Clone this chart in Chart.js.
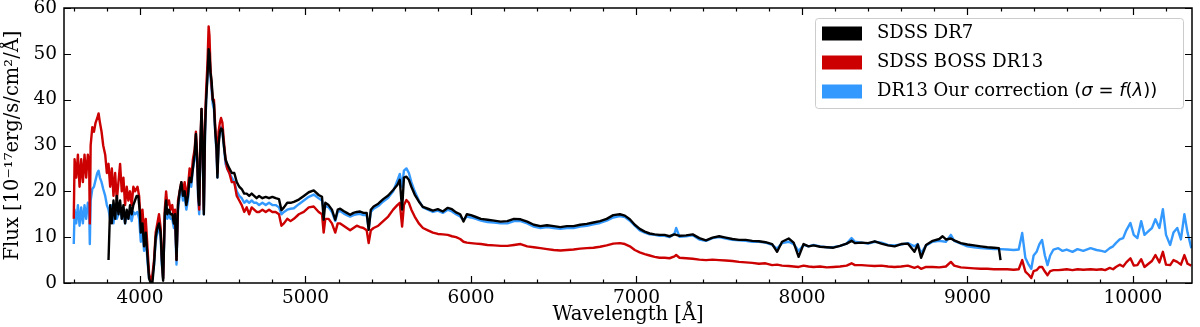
<!DOCTYPE html>
<html>
<head>
<meta charset="utf-8">
<script src="https://cdn.jsdelivr.net/npm/chart.js@4/dist/chart.umd.min.js"></script>
<style>
  html, body { margin: 0; padding: 0; background: #fff; }
  #wrap { width: 1200px; height: 327px; }
</style>
</head>
<body>
<div id="wrap"><canvas id="myChart" width="1200" height="327"></canvas></div>
<script>
// Wavelength grid shared by the BOSS DR13 spectrum and our corrected version
const bossWave = [
  3600, 3605, 3615, 3625, 3635, 3645, 3655, 3665, 3675, 3685,
  3693, 3697, 3702, 3712, 3722, 3732, 3742, 3750, 3758, 3768,
  3778, 3790, 3800, 3810, 3820, 3830, 3840, 3850, 3860, 3870,
  3880, 3890, 3900, 3910, 3920, 3930, 3940, 3950, 3960, 3970,
  3985, 3995, 4005, 4015, 4025, 4035, 4045, 4055, 4070, 4085,
  4095, 4105, 4115, 4125, 4132, 4140, 4150, 4158, 4165, 4175,
  4185, 4195, 4205, 4212, 4221, 4230, 4240, 4250, 4260, 4270,
  4280, 4290, 4300, 4310, 4320, 4330, 4338, 4346, 4352, 4358,
  4365, 4372, 4379, 4386, 4393, 4400, 4408, 4415, 4420, 4426,
  4433, 4440, 4447, 4455, 4463, 4468, 4475, 4483, 4490, 4498,
  4507, 4517, 4527, 4540, 4555, 4570, 4585, 4600, 4615, 4630,
  4645, 4660, 4675, 4690, 4705, 4720, 4740, 4760, 4780, 4800,
  4820, 4840, 4855, 4870, 4890, 4910, 4930, 4960, 4990, 5020,
  5050, 5080, 5100, 5110, 5120, 5140, 5160, 5180, 5195, 5210,
  5230, 5250, 5270, 5290, 5310, 5330, 5350, 5370, 5382, 5395,
  5412, 5440, 5470, 5500, 5530, 5555, 5570, 5584, 5595, 5610,
  5625, 5640, 5660, 5685, 5710, 5740, 5770, 5800, 5830, 5860,
  5885, 5910, 5935, 5955, 5975, 6000, 6030, 6060, 6100, 6140,
  6180, 6220, 6260, 6300, 6340, 6380, 6420, 6460, 6500, 6540,
  6580, 6620, 6660, 6700, 6740, 6780, 6820, 6860, 6900, 6930,
  6960, 6990, 7020, 7050, 7080, 7110, 7140, 7170, 7200, 7230,
  7240, 7260, 7300, 7340, 7380, 7420, 7460, 7500, 7540, 7580,
  7620, 7660, 7700, 7740, 7780, 7820, 7850, 7880, 7920, 7950,
  7980, 8010, 8040, 8070, 8110, 8150, 8190, 8230, 8270, 8300,
  8320, 8360, 8400, 8440, 8480, 8520, 8560, 8600, 8640, 8680,
  8700, 8720, 8750, 8790, 8830, 8870, 8900, 8920, 8960, 9000,
  9040, 9080, 9120, 9160, 9200, 9240, 9280, 9310, 9331, 9350,
  9370, 9386, 9400, 9418, 9435, 9451, 9468, 9484, 9500, 9520,
  9549, 9575, 9600, 9635, 9665, 9700, 9744, 9780, 9810, 9832,
  9860, 9880, 9897, 9920, 9941, 9960, 9985, 10005, 10027, 10050,
  10070, 10094, 10115, 10136, 10160, 10181, 10200, 10225, 10245, 10268,
  10290, 10311, 10330, 10353
];

// SDSS BOSS DR13 flux (red)
const bossFlux = [
  14, 27, 23, 28, 21, 27, 22, 28, 23, 28,
  26, 13, 30, 34, 33, 35, 36, 37, 35, 33,
  30, 28, 24, 26, 21, 25, 19, 24, 18, 22,
  26, 20, 23, 17, 21, 18, 20, 17, 21, 20,
  21, 19, 13, 16, 11, 14, 8, 2, 0, 5,
  11, 13, 15, 12, 6, 1, 16, 20, 17, 18,
  16, 17, 14, 16, 5, 18, 20, 22, 20, 22,
  19, 21, 25, 23, 27, 29, 33, 28, 20, 16,
  30, 38, 30, 16, 35, 42, 48, 56, 54, 47,
  43, 40, 40, 34, 30, 24, 33, 35, 36, 35,
  31, 27, 25, 24, 22, 22, 19, 18, 17, 15.5,
  16.5, 15, 16.5, 16, 15.5, 15.5, 16, 15.5, 16, 15.5,
  15.5, 15, 12.5, 13, 14, 13.5, 14, 15, 15.5, 16.5,
  16.7, 15.5, 15, 11, 14, 14, 13, 11, 13, 13,
  12.5, 12, 11.5, 12, 12.5, 12.2, 12, 11.5, 8.7, 11.5,
  12, 12.5, 13.5, 14.5, 16, 17, 17.5, 12.3, 17, 18.1,
  17.5, 16, 14.5, 13, 12, 11.5, 11, 10.7, 10.6, 10.5,
  10.2, 10, 9.6, 9, 8.8, 8.7, 8.6, 8.5, 8.3, 8.2,
  8.1, 8.1, 8.3, 8.5, 8.0, 7.8, 7.6, 7.4, 7.2, 7.1,
  7.2, 7.3, 7.5, 7.6, 7.7, 7.9, 8.2, 8.6, 8.7, 8.5,
  8.0, 7.2, 6.7, 6.3, 6.0, 5.7, 5.5, 5.5, 5.4, 5.8,
  6.1, 5.5, 5.4, 5.3, 5.1, 5.0, 5.1, 5.0, 4.9, 4.8,
  4.6, 4.5, 4.4, 4.2, 4.3, 3.9, 4.0, 3.8, 3.7, 3.6,
  3.5, 3.8, 3.6, 3.5, 3.6, 3.4, 3.5, 3.6, 3.8, 4.3,
  3.9, 3.9, 3.8, 3.7, 3.8, 3.6, 3.5, 3.6, 3.8, 3.3,
  3.6, 3.1, 3.5, 3.5, 3.4, 3.6, 4.6, 3.8, 3.4, 3.3,
  3.2, 3.1, 3.1, 3.0, 3.0, 3.0, 2.9, 3.0, 5.0, 2.5,
  1.8, 1.1, 2.6, 2.8, 3.5, 3.5, 2.5, 1.7, 2.6, 2.8,
  2.8, 2.9, 3.0, 2.8, 3.0, 2.9, 3.0, 2.9, 3.0, 2.8,
  3.3, 3.0, 3.5, 4.0, 3.6, 4.5, 5.4, 3.8, 3.9, 5.2,
  3.5, 4.2, 4.8, 6.1, 4.5, 6.8, 4.0, 3.9, 5.0, 4.6,
  4.0, 6.1, 4.2, 3.8
];

// DR13 with our correction, sigma = f(lambda) (blue)
const corrFlux = [
  8.5, 16, 13, 17, 12.5, 16.5, 13, 17, 14, 17.5,
  16, 8.5, 18, 20.5, 21, 22.5, 24, 24.5, 23, 22,
  20.5, 19, 17, 16, 14, 17, 13, 16, 14, 15,
  17, 14, 16, 13, 15, 14, 15, 13.5, 15.5, 15,
  15.5, 14, 9, 11, 7, 10, 5, 1, 0, 4,
  9, 11, 12, 10, 4, 1, 14, 17, 14, 15,
  14, 14, 12, 13, 4, 16, 19, 21, 18, 19,
  16, 18, 23, 21, 25, 27, 31, 26, 18, 15,
  29, 37, 28, 15, 32, 40, 46, 51, 50, 45,
  42, 39, 38, 33, 28, 23, 31, 33, 34, 33,
  30, 26, 25, 24, 23, 22, 20, 19, 18.5, 17.5,
  18, 17.5, 18, 17.5, 17.5, 17, 17.5, 17, 17.5, 17,
  17, 16.5, 15, 15.5, 16, 16.2, 16.3, 17.2, 18, 18.8,
  19.3, 18.5, 18, 16, 16.8, 16.5, 15.5, 13.5, 15.5, 15.7,
  15.2, 14.8, 14.5, 14.8, 15, 15.1, 14.8, 14.8, 11.8, 15.5,
  16.2, 16.8, 17.8, 18.6, 20, 22.3, 23.8, 21, 24.5, 25,
  24, 22, 20, 18, 16.5, 16, 15.5, 15.8, 15.3, 16,
  15.6, 15, 14.5, 13.8, 14.5, 14.3, 14, 13.6, 13.3, 13.2,
  13, 13, 13.5, 13.5, 13, 12.3, 12, 12.2, 12, 11.8,
  12, 12, 12.3, 12.5, 12.8, 13.1, 13.6, 14.3, 14.6, 14.4,
  13.6, 12.5, 11.5, 11, 10.6, 10.5, 10.3, 10.3, 10, 10.8,
  12, 10.1, 10.2, 10.4, 9.5, 9.2, 9.8, 10, 9.7, 9.4,
  9.3, 9.2, 9.0, 9.0, 8.8, 8.3, 7.5, 8.7, 9.0, 8.5,
  7.0, 8.3, 8.0, 8.3, 8.0, 7.8, 7.8, 8.1, 8.6, 9.8,
  9.0, 8.8, 8.6, 9.0, 8.8, 8.3, 8.2, 8.4, 8.7, 8.0,
  8.5, 6.5, 8.2, 9.0, 9.2, 9.0, 10.5, 9.2, 8.6, 8.0,
  7.8, 7.6, 7.5, 7.4, 7.4, 7.3, 7.2, 7.3, 10.9, 5.5,
  4.0, 3.1, 6.0, 6.8, 8.5, 9.4, 6.0, 3.9, 6.0, 7.3,
  7.6, 7.0, 7.3, 6.8, 7.4, 7.0, 7.6, 7.2, 7.0, 6.8,
  7.6, 8.0, 8.7, 9.5, 9.8, 11.5, 13.1, 10.5, 9.8, 13.5,
  10.5, 11.3, 12.0, 13.9, 12.0, 16.1, 10.5, 8.3, 11.0, 12.0,
  9.5, 15.0, 11, 7.6
];

// SDSS DR7 spectrum (black), shorter wavelength coverage
const dr7Wave = [
  3810, 3820, 3830, 3840, 3850, 3860, 3870, 3880, 3890, 3900,
  3910, 3920, 3930, 3940, 3950, 3960, 3970, 3980, 3990, 4000,
  4005, 4015, 4025, 4035, 4045, 4055, 4065, 4075, 4085, 4095,
  4105, 4115, 4125, 4132, 4140, 4150, 4158, 4165, 4175, 4185,
  4195, 4205, 4212, 4221, 4230, 4240, 4250, 4260, 4270, 4280,
  4290, 4300, 4310, 4320, 4330, 4338, 4346, 4352, 4358, 4365,
  4372, 4379, 4386, 4393, 4400, 4408, 4415, 4420, 4426, 4433,
  4440, 4447, 4455, 4463, 4468, 4475, 4483, 4490, 4498, 4507,
  4517, 4527, 4540, 4555, 4570, 4585, 4600, 4615, 4630, 4645,
  4660, 4675, 4690, 4705, 4720, 4740, 4760, 4780, 4800, 4820,
  4840, 4855, 4870, 4890, 4910, 4930, 4960, 4990, 5020, 5050,
  5080, 5100, 5110, 5120, 5140, 5160, 5180, 5195, 5210, 5230,
  5250, 5270, 5290, 5310, 5330, 5350, 5370, 5382, 5395, 5412,
  5440, 5470, 5500, 5530, 5555, 5570, 5584, 5595, 5610, 5625,
  5640, 5660, 5685, 5710, 5740, 5770, 5800, 5830, 5860, 5885,
  5910, 5935, 5955, 5975, 6000, 6030, 6060, 6100, 6140, 6180,
  6220, 6260, 6300, 6340, 6380, 6420, 6460, 6500, 6540, 6580,
  6620, 6660, 6700, 6740, 6780, 6820, 6860, 6900, 6930, 6960,
  6990, 7020, 7050, 7080, 7110, 7140, 7170, 7200, 7230, 7260,
  7300, 7340, 7380, 7420, 7460, 7500, 7540, 7580, 7620, 7660,
  7700, 7740, 7780, 7820, 7850, 7880, 7920, 7950, 7980, 8010,
  8040, 8070, 8110, 8150, 8190, 8230, 8270, 8300, 8320, 8360,
  8400, 8440, 8480, 8520, 8560, 8600, 8640, 8680, 8700, 8720,
  8750, 8790, 8830, 8850, 8870, 8900, 8920, 8960, 9000, 9040,
  9080, 9120, 9160, 9190, 9200
];

const dr7Flux = [
  5, 17, 13, 18, 14, 19, 15, 18, 14, 17,
  13, 16, 14, 17, 15, 17, 18, 19, 19, 15,
  11, 13, 8, 11, 6, 1, 0, 0, 4, 10,
  12, 13, 11, 5, 0.5, 15, 18, 15, 16, 15,
  15, 13, 15, 5, 17, 20, 22, 19, 20, 17,
  19, 23, 22, 25, 28, 32.5, 27, 19, 17, 30,
  38, 29, 15, 33, 40, 45, 51, 50, 46, 44,
  40, 39, 33, 29, 23, 30, 33, 33.7, 33.5, 30,
  27, 26, 25, 24, 24, 22, 21, 20.5, 19.5, 19.5,
  19, 19.5, 19, 18.5, 19, 18.5, 18.8, 18.5, 18.8, 18.5,
  18.3, 15.9, 16.5, 17.5, 17.5, 17.7, 18.2, 19, 19.8, 20.2,
  19.2, 18.8, 13.8, 17.5, 17, 16, 13.8, 16, 16.2, 15.7,
  15.3, 14.9, 15.3, 15.5, 15.6, 15.3, 15.3, 11.6, 16, 16.7,
  17.3, 18.3, 19.1, 20.3, 21.4, 22.5, 16, 23, 23.2, 22.5,
  21, 19.3, 17.8, 16.6, 16.2, 15.8, 16.1, 15.6, 16.4, 16.1,
  15.4, 15, 13.4, 15, 14.8, 14.4, 14, 13.8, 13.6, 13.4,
  13.5, 14, 13.9, 13.4, 12.7, 12.4, 12.6, 12.4, 12.2, 12.4,
  12.4, 12.7, 12.9, 13.2, 13.5, 14, 14.8, 15, 14.7, 13.9,
  12.7, 11.8, 11.2, 10.8, 10.6, 10.5, 10.5, 10.2, 10.6, 10.3,
  10.4, 10.6, 9.8, 9.3, 9.9, 10.2, 9.9, 9.6, 9.4, 9.4,
  9.2, 9.1, 8.9, 8.5, 6.8, 9.0, 9.7, 8.8, 5.7, 8.5,
  8.0, 8.2, 7.9, 7.8, 7.7, 8.1, 8.6, 9.2, 8.7, 8.8,
  8.7, 9.1, 8.6, 8.2, 8.0, 8.5, 8.6, 6.8, 8.4, 5.5,
  8.3, 9.2, 9.6, 10.2, 9.5, 9.7, 9.3, 8.7, 8.4, 8.2,
  8.0, 7.8, 7.7, 7.6, 5.0
];

// Tick labels
const xTickValues = [4000, 5000, 6000, 7000, 8000, 9000, 10000];
const xMinorStep = 200;
const yTickValues = [0, 10, 20, 30, 40, 50, 60];

const serif = "'DejaVu Serif', 'Liberation Serif', serif";

function toPoints(xs, ys) {
    if (xs.length !== ys.length) console.warn('length mismatch', xs.length, ys.length);
    return xs.map((x, i) => ({ x: x, y: ys[i] }));
}

// Frame + inward ticks on all four sides (matplotlib style)
const frameTicks = {
    id: 'frameTicks',
    afterDatasetsDraw(chart) {
        const { ctx, chartArea: a, scales } = chart;
        const xs = scales.x, ys = scales.y;
        ctx.save();
        ctx.strokeStyle = '#000';
        ctx.lineWidth = 1.2;
        ctx.beginPath();
        for (let v = Math.ceil(xs.min / xMinorStep) * xMinorStep; v <= xs.max; v += xMinorStep) {
            const px = Math.round(xs.getPixelForValue(v)) + 0.5;
            const len = (v % 1000 === 0) ? 7 : 3.5;
            ctx.moveTo(px, a.bottom); ctx.lineTo(px, a.bottom - len);
            ctx.moveTo(px, a.top); ctx.lineTo(px, a.top + len);
        }
        yTickValues.forEach(v => {
            const py = Math.round(ys.getPixelForValue(v)) + 0.5;
            ctx.moveTo(a.left, py); ctx.lineTo(a.left + 7, py);
            ctx.moveTo(a.right, py); ctx.lineTo(a.right - 7, py);
        });
        ctx.stroke();
        ctx.lineWidth = 1.5;
        ctx.strokeRect(a.left, a.top, a.right - a.left, a.bottom - a.top);
        ctx.restore();
    }
};

// Legend with coloured patches and a mathtext-like label
const legendBox = {
    id: 'legendBox',
    afterDraw(chart) {
        const ctx = chart.ctx;
        const items = chart.data.datasets;
        ctx.save();
        ctx.beginPath();
        ctx.roundRect(815.5, 18.5, 368, 90, 3);
        ctx.fillStyle = 'rgba(255,255,255,0.85)';
        ctx.fill();
        ctx.strokeStyle = '#cccccc';
        ctx.lineWidth = 1;
        ctx.stroke();
        ctx.textBaseline = 'middle';
        items.forEach((ds, i) => {
            const y = 33.5 + i * 29;
            ctx.fillStyle = ds.borderColor;
            ctx.fillRect(822, y - 7, 40, 14);
            ctx.fillStyle = '#000';
            ctx.font = '18px ' + serif;
            let x = 877;
            ctx.fillText(ds.label, x, y);
            if (ds.mathLabel) {
                x += ctx.measureText(ds.label).width;
                ds.mathLabel.forEach(seg => {
                    ctx.font = (seg[1] ? 'italic ' : '') + "18px 'DejaVu Sans', sans-serif";
                    ctx.fillText(seg[0], x, y);
                    x += ctx.measureText(seg[0]).width;
                });
            }
        });
        ctx.restore();
    }
};

const ctx = document.getElementById('myChart');
new Chart(ctx, {
    type: 'line',
    data: {
        datasets: [{
            label: 'SDSS DR7',
            data: toPoints(dr7Wave, dr7Flux),
            borderColor: '#000000',
            borderWidth: 2.4
        }, {
            label: 'SDSS BOSS DR13',
            data: toPoints(bossWave, bossFlux),
            borderColor: '#cc0000',
            borderWidth: 2.4
        }, {
            label: 'DR13 Our correction ',
            mathLabel: [['(', false], ['σ', true], [' = ', false], ['f', true], ['(', false], ['λ', true], ['))', false]],
            data: toPoints(bossWave, corrFlux),
            borderColor: '#3399ff',
            borderWidth: 2.4
        }]
    },
    options: {
        responsive: false,
        animation: false,
        elements: {
            point: { radius: 0 },
            line: { tension: 0, borderJoinStyle: 'round' }
        },
        layout: { padding: { top: 8, right: 8, left: 0, bottom: 0 } },
        plugins: {
            legend: { display: false },
            tooltip: { enabled: false }
        },
        scales: {
            x: {
                type: 'linear',
                position: 'bottom',
                min: 3541,
                max: 10357,
                afterBuildTicks: s => { s.ticks = xTickValues.map(v => ({ value: v })); },
                afterFit: s => { s.height = 44; s.paddingLeft = 0; s.paddingRight = 0; },
                grid: { display: false, drawTicks: false },
                border: { display: false },
                ticks: {
                    color: '#000',
                    font: { family: serif, size: 18.5 },
                    padding: 4,
                    maxRotation: 0,
                    autoSkip: false,
                    callback: v => String(v)
                },
                title: {
                    display: true,
                    text: 'Wavelength [Å]',
                    color: '#000',
                    font: { family: serif, size: 19.5 },
                    padding: { top: 0, bottom: 0 }
                }
            },
            y: {
                type: 'linear',
                min: 0,
                max: 60,
                afterBuildTicks: s => { s.ticks = yTickValues.map(v => ({ value: v })); },
                afterFit: s => { s.width = 64; s.paddingTop = 0; s.paddingBottom = 0; },
                grid: { display: false, drawTicks: false },
                border: { display: false },
                ticks: {
                    color: '#000',
                    font: { family: serif, size: 18.5 },
                    padding: 7,
                    callback: v => String(v)
                },
                title: {
                    display: true,
                    text: 'Flux [10⁻¹⁷erg/s/cm²/Å]',
                    color: '#000',
                    font: { family: serif, size: 19.5 },
                    padding: { top: 1, bottom: 0 }
                }
            }
        }
    },
    plugins: [frameTicks, legendBox]
});
</script>
</body>
</html>
